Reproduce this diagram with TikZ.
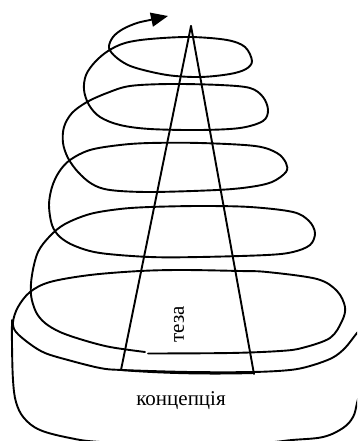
\documentclass[tikz,border=0pt]{standalone}
\usepackage{fontspec}
\setmainfont{Liberation Serif}
\usetikzlibrary{arrows.meta}
\begin{document}
\begin{tikzpicture}[x=1pt,y=-1pt,
  ink/.style={line width=1.9pt,line cap=round,line join=round},
  lbl/.style={font=\fontsize{21}{25}\selectfont,inner sep=0pt}]
\useasboundingbox (0,0) rectangle (357,441);
\clip (0,0) rectangle (357,441);
% triangle (thesis)
\draw[ink] (191,26) -- (121,370);
\draw[ink] (191,26) -- (254,374);
\draw[ink] (121,370) .. controls (170,374) and (220,374) .. (254,373);
% concept base (U shape)
\draw[ink] plot[smooth,tension=0.6] coordinates {(12,320) (12,345) (13,380) (16,402) (24,418) (40,430) (70,438) (100,442) (180,446) (260,443) (292,440) (323,437) (343,428) (353,417) (357,403) (362,380) (366,340)};
% spiral, lower piece
\draw[ink] plot[smooth,tension=0.55] coordinates {(372,316) (357,333) (345,348) (332,358) (310,366) (290,370) (253,372) (190,372) (122,370) (100,368) (68,360) (45,353) (30,344) (16,332) (13,322) (18,307) (30,292) (50,282) (90,275) (140,271) (183,270) (240,271) (267,272) (317,279) (337,291) (345,307) (342,321) (330,338) (302,348) (280,351) (230,353) (148,353.5)};
% spiral, upper piece with arrow
\draw[ink,-{Triangle[length=17pt,width=14pt]}] plot[smooth,tension=0.55] coordinates {(145,352) (110,347) (83,340) (60,332) (45,323) (36,312) (31,295) (32,275) (38,252) (50,236) (65,224) (90,214) (120,209) (150,207) (200,206) (250,207) (293,212) (309,221) (315,233) (310,245) (293,252) (267,255) (200,257) (150,257) (100,253) (75,246) (60,237) (52,225) (49,205) (52,187) (59,172) (70,160) (90,150) (120,145) (150,143) (200,143) (255,146) (277,153) (286,163) (286,172) (272,182) (250,187) (217,190) (150,192) (110,190) (92,184) (78,172) (68,158) (63,143) (64,127) (72,113) (87,102) (107,93) (130,86) (170,84) (220,85) (250,88) (263,97) (268,110) (263,121) (240,128) (200,130) (150,129) (120,125) (100,117) (89,105) (84,90) (86,75) (95,62) (108,51) (125,43) (150,39) (190,37) (227,40) (245,47) (252,61) (246,69) (230,74) (200,77) (167,75) (133,67) (117,58) (109,48) (113,37) (123,29) (137,23) (150,20) (168,16)};
% labels
\node[lbl] (konc) at (181,401) {концепція};
\node[lbl,rotate=90] (teza) at (179,324) {теза};
\end{tikzpicture}
\end{document}
